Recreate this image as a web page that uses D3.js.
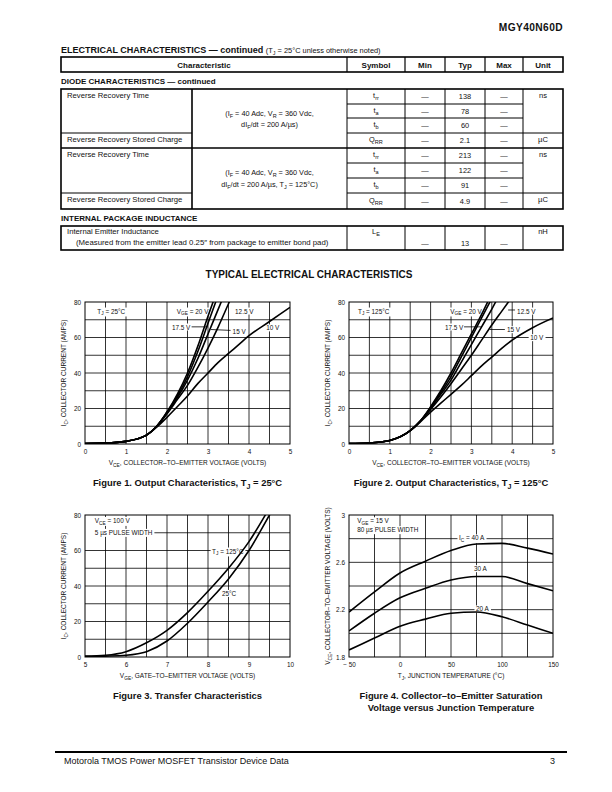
<!DOCTYPE html>
<html>
<head>
<meta charset="utf-8">
<script src="https://cdn.jsdelivr.net/npm/d3@7"></script>
<style>
  body { margin: 0; background: #fff; }
  svg text { font-family: "Liberation Sans", Arial, sans-serif; fill: #111; }
  .narrow { font-family: "Liberation Sans Narrow", "Liberation Sans", Arial, sans-serif; font-weight: bold; }
</style>
</head>
<body>
<svg id="page" width="612" height="792"></svg>
<script>
// ---------- table data ----------
var headCols = ["Characteristic", "Symbol", "Min", "Typ", "Max", "Unit"];
var diodeRowEdges = [89, 104, 118, 133, 148, 163, 178, 193, 209];
var diodeSymbols = [["t", "rr"], ["t", "a"], ["t", "b"], ["Q", "RR"], ["t", "rr"], ["t", "a"], ["t", "b"], ["Q", "RR"]];
var diodeMin = ["—", "—", "—", "—", "—", "—", "—", "—"];
var diodeTyp = ["138", "78", "60", "2.1", "213", "122", "91", "4.9"];
var diodeMax = ["—", "—", "—", "—", "—", "—", "—", "—"];
var diodeUnits = ["ns", "", "", "µC", "ns", "", "", "µC"];
var diodeChars = ["Reverse Recovery Time", "", "", "Reverse Recovery Stored Charge", "Reverse Recovery Time", "", "", "Reverse Recovery Stored Charge"];

// ---------- chart data ----------
// Figure 1, TJ = 25°C
var vce = [0, 0.5, 1, 1.5, 1.75, 2, 2.25, 2.5, 2.75, 3, 3.25, 3.5, 3.75, 4, 4.5, 5];
var f1_20 = [0.3, 0.5, 1.5, 5, 10, 18, 28, 40, 55, 72, 88];
var f1_175 = [0.3, 0.5, 1.5, 5, 10, 18, 27, 38, 52, 68, 84];
var f1_15 = [0.3, 0.5, 1.5, 5, 10, 17.5, 26, 36, 48, 62, 76, 90];
var f1_125 = [0.3, 0.5, 1.5, 5, 10, 17, 25, 33, 43, 54, 66, 79, 92];
var f1_10 = [0.3, 0.5, 1.5, 5, 9.5, 15, 21, 27, 34, 40, 46, 51, 56, 61, 69, 77];
// Figure 2, TJ = 125°C
var f2_20 = [0.3, 0.6, 2, 7.5, 13, 21, 30, 40, 51, 62, 73, 85];
var f2_175 = [0.3, 0.6, 2, 7.5, 13, 20.5, 29, 38, 49, 60, 71, 82];
var f2_15 = [0.3, 0.6, 2, 7.5, 13, 20, 28, 36, 46, 56, 66, 76, 87];
var f2_125 = [0.3, 0.6, 2, 7.5, 13, 19.5, 26.5, 34, 42, 50, 58.5, 67, 75, 83];
var f2_10 = [0.3, 0.6, 2, 7.5, 12.5, 18, 23, 28, 33, 38.5, 44, 49, 54, 58.5, 65.5, 71];
// Figure 3, transfer
var vge = [5, 5.5, 6, 6.5, 7, 7.5, 8, 8.5, 9, 9.5, 10];
var f3_125 = [0.5, 1, 3, 8, 15, 25, 37, 50, 65, 84, 104];
var f3_25 = [0.3, 0.5, 1, 3, 9, 19, 31, 44, 60, 80, 100];
// Figure 4, VCE(sat) vs TJ
var tj = [-50, -25, 0, 25, 50, 75, 100, 125, 150];
var f4_40 = [2.18, 2.35, 2.51, 2.61, 2.70, 2.755, 2.76, 2.72, 2.67];
var f4_30 = [2.02, 2.17, 2.30, 2.38, 2.45, 2.48, 2.48, 2.42, 2.36];
var f4_20 = [1.86, 1.96, 2.06, 2.12, 2.17, 2.18, 2.14, 2.07, 2.00];

var svg = d3.select("#page");

// rich text: parts are strings or [text, "sub"|"sup"]
function rich(text, parts, fs) {
    var shift = 0;
    parts.forEach(function(p) {
        var str = typeof p === "string" ? p : p[0];
        var kind = typeof p === "string" ? null : p[1];
        var target = kind === "sub" ? fs * 0.3 : kind === "sup" ? -fs * 0.35 : 0;
        var ts = text.append("tspan").text(str).attr("dy", target - shift);
        if (kind) ts.attr("font-size", fs * 0.75);
        shift = target;
    });
    return text;
}
function txt(g, x, y, parts, fs, opts) {
    opts = opts || {};
    var t = g.append("text").attr("x", x).attr("y", y).attr("font-size", fs)
        .attr("text-anchor", opts.anchor || "start");
    if (opts.cls) t.attr("class", opts.cls);
    if (opts.bold) t.attr("font-weight", "bold");
    return rich(t, typeof parts === "string" ? [parts] : parts, fs);
}
function hline(g, x1, x2, y, w) { g.append("line").attr("x1", x1).attr("x2", x2).attr("y1", y).attr("y2", y).attr("stroke", "#000").attr("stroke-width", w || 0.8); }
function vline(g, x, y1, y2, w) { g.append("line").attr("x1", x).attr("x2", x).attr("y1", y1).attr("y2", y2).attr("stroke", "#000").attr("stroke-width", w || 0.8); }

// ---------- page header ----------
txt(svg, 563, 31, "MGY40N60D", 10.2, { anchor: "end" }).attr("font-weight", 900).attr("letter-spacing", 0.4);

var tbl = svg.append("g");
var ttl = txt(tbl, 61, 53, "ELECTRICAL CHARACTERISTICS — continued ", 9, { cls: "narrow" });
ttl.append("tspan").attr("font-weight", "normal").attr("font-size", 7.4).text("(T");
ttl.append("tspan").attr("font-weight", "normal").attr("font-size", 5.4).attr("dy", 1.6).text("J");
ttl.append("tspan").attr("font-weight", "normal").attr("font-size", 7.4).attr("dy", -1.6).text(" = 25°C unless otherwise noted)");

var cols = [347, 405, 445, 485, 523];
// header row
tbl.append("rect").attr("x", 61).attr("y", 57).attr("width", 502).attr("height", 15).attr("fill", "none").attr("stroke", "#000").attr("stroke-width", 1.6);
cols.forEach(function(x) { vline(tbl, x, 57, 72, 1.2); });
var headCenters = [(61 + 347) / 2, 376, 425, 465, 504, 543];
headCols.forEach(function(h, i) { txt(tbl, headCenters[i], 67.5, h, 8, { anchor: "middle", cls: "narrow" }); });

txt(tbl, 61, 84, "DIODE CHARACTERISTICS — continued", 8, { cls: "narrow" });

// diode table
var dTop = diodeRowEdges[0], dBot = diodeRowEdges[diodeRowEdges.length - 1];
cols.forEach(function(x) { vline(tbl, x, dTop, dBot, 1); });
vline(tbl, 192, dTop, dBot, 1.6);
diodeRowEdges.forEach(function(yy, i) {
    if (i === 0 || i === diodeRowEdges.length - 1) return;
    if (i % 4 === 0) { hline(tbl, 61, 563, yy, 1.6); return; }
    if (i % 4 === 3) { hline(tbl, 61, 192, yy, 1); hline(tbl, 347, 563, yy, 1); return; }
    hline(tbl, 347, 523, yy, 1);
});
tbl.append("rect").attr("x", 61).attr("y", dTop).attr("width", 502).attr("height", dBot - dTop).attr("fill", "none").attr("stroke", "#000").attr("stroke-width", 1.6);

diodeSymbols.forEach(function(s, i) {
    var yc = (diodeRowEdges[i] + diodeRowEdges[i + 1]) / 2 + 2.5;
    txt(tbl, 376, yc - 1, [s[0], [s[1], "sub"]], 7.4, { anchor: "middle" });
    txt(tbl, 425, yc, diodeMin[i], 7.4, { anchor: "middle" });
    txt(tbl, 465, yc, diodeTyp[i], 7.4, { anchor: "middle" });
    txt(tbl, 504, yc, diodeMax[i], 7.4, { anchor: "middle" });
    if (diodeUnits[i]) txt(tbl, 543, diodeRowEdges[i] + 9, diodeUnits[i], 7.6, { anchor: "middle" });
    if (diodeChars[i]) txt(tbl, 67, diodeRowEdges[i] + 9, diodeChars[i], 7.7);
});
txt(tbl, 269.5, 115.5, ["(I", ["F", "sub"], " = 40 Adc, V", ["R", "sub"], " = 360 Vdc,"], 7.3, { anchor: "middle" });
txt(tbl, 269.5, 126.5, ["dI", ["F", "sub"], "/dt = 200 A/µs)"], 7.3, { anchor: "middle" });
txt(tbl, 269.5, 174.5, ["(I", ["F", "sub"], " = 40 Adc, V", ["R", "sub"], " = 360 Vdc,"], 7.3, { anchor: "middle" });
txt(tbl, 269.5, 186.5, ["dI", ["F", "sub"], "/dt = 200 A/µs, T", ["J", "sub"], " = 125°C)"], 7.3, { anchor: "middle" });

// internal package inductance
txt(tbl, 61, 221, "INTERNAL PACKAGE INDUCTANCE", 8, { cls: "narrow" });
tbl.append("rect").attr("x", 61).attr("y", 226).attr("width", 502).attr("height", 24).attr("fill", "none").attr("stroke", "#000").attr("stroke-width", 1.6);
cols.forEach(function(x) { vline(tbl, x, 226, 250, 1); });
txt(tbl, 67, 234, "Internal Emitter Inductance", 7.7);
txt(tbl, 76, 245, "(Measured from the emitter lead 0.25″ from package to emitter bond pad)", 7.8);
txt(tbl, 376, 234, ["L", ["E", "sub"]], 7.4, { anchor: "middle" });
txt(tbl, 425, 245.5, "—", 7.4, { anchor: "middle" });
txt(tbl, 465, 245.5, "13", 7.4, { anchor: "middle" });
txt(tbl, 504, 245.5, "—", 7.4, { anchor: "middle" });
txt(tbl, 543, 234, "nH", 7.6, { anchor: "middle" });

txt(svg, 309, 277.5, "TYPICAL ELECTRICAL CHARACTERISTICS", 10, { anchor: "middle", bold: true });

// ---------- charts ----------
var clipId = 0;
function chart(cfg) {
    var x = d3.scaleLinear().domain(cfg.xd).range([cfg.box[0], cfg.box[1]]);
    var y = d3.scaleLinear().domain(cfg.yd).range([cfg.box[3], cfg.box[2]]);
    var g = svg.append("g");

    // grid
    g.selectAll(".gx").data(cfg.xGrid).enter().append("line")
        .attr("x1", function(d) { return x(d); }).attr("x2", function(d) { return x(d); })
        .attr("y1", y.range()[0]).attr("y2", y.range()[1])
        .attr("stroke", "#000").attr("stroke-width", 0.8);
    g.selectAll(".gy").data(cfg.yGrid).enter().append("line")
        .attr("y1", function(d) { return y(d); }).attr("y2", function(d) { return y(d); })
        .attr("x1", x.range()[0]).attr("x2", x.range()[1])
        .attr("stroke", "#000").attr("stroke-width", 0.8);

    // labels: white boxes first so they hide the grid, text goes over the curves
    var boxes = g.append("g"), curves = g.append("g"), texts = g.append("g");
    cfg.labels.forEach(function(l) {
        var t = txt(texts, x(l.x), y(l.y), l.t, 6.4);
        var b = t.node().getBBox();
        var x0 = l.toLeft ? x.range()[0] : b.x - 1.5;
        boxes.append("rect").attr("x", x0).attr("y", b.y).attr("width", b.x + b.width + 1.5 - x0).attr("height", b.height)
            .attr("fill", "#fff");
    });
    (cfg.leaders || []).forEach(function(l) {
        texts.append("line").attr("x1", x(l[0])).attr("y1", y(l[1])).attr("x2", x(l[2])).attr("y2", y(l[3]))
            .attr("stroke", "#000").attr("stroke-width", 0.8);
    });

    // curves
    clipId++;
    svg.append("defs").append("clipPath").attr("id", "clip" + clipId).append("rect")
        .attr("x", x.range()[0]).attr("y", y.range()[1])
        .attr("width", x.range()[1] - x.range()[0]).attr("height", y.range()[0] - y.range()[1]);
    curves.attr("clip-path", "url(#clip" + clipId + ")");
    var line = d3.line().x(function(d) { return x(d[0]); }).y(function(d) { return y(d[1]); }).curve(d3.curveMonotoneX);
    cfg.series.forEach(function(s) {
        var pts = s.map(function(v, i) { return [cfg.xs[i], v]; });
        curves.append("path").attr("d", line(pts)).attr("fill", "none").attr("stroke", "#000").attr("stroke-width", 1.6);
    });

    // frame
    g.append("rect").attr("x", x.range()[0]).attr("y", y.range()[1])
        .attr("width", x.range()[1] - x.range()[0]).attr("height", y.range()[0] - y.range()[1])
        .attr("fill", "none").attr("stroke", "#000").attr("stroke-width", 1);

    // axes (tick labels only)
    var ax = g.append("g").attr("transform", "translate(0," + y.range()[0] + ")")
        .call(d3.axisBottom(x).tickValues(cfg.xTicks).tickSize(0).tickPadding(5).tickFormat(d3.format("")));
    var ay = g.append("g").attr("transform", "translate(" + x.range()[0] + ",0)")
        .call(d3.axisLeft(y).tickValues(cfg.yTicks).tickSize(0).tickPadding(4).tickFormat(d3.format("")));
    [ax, ay].forEach(function(a) {
        a.select(".domain").remove();
        a.selectAll("text").attr("font-size", 6.4).attr("font-family", "Liberation Sans").attr("fill", "#111");
    });
    ax.selectAll("text").text(function(d) { return d < 0 ? "− " + Math.abs(d) : d; });

    // axis titles
    var xm = (x.range()[0] + x.range()[1]) / 2;
    txt(g, xm, y.range()[0] + 21, cfg.xTitle, 6.5, { anchor: "middle" });
    var ym = (y.range()[0] + y.range()[1]) / 2;
    txt(g, 0, 0, cfg.yTitle, 6.5, { anchor: "middle" })
        .attr("transform", "translate(" + cfg.yTitleX + "," + ym + ") rotate(-90)");

    // caption
    cfg.caption.forEach(function(c, i) {
        txt(g, xm, y.range()[0] + 42 + i * 12, c, 9.4, { anchor: "middle", bold: true });
    });
}

var icTitle = ["I", ["C", "sub"], ", COLLECTOR CURRENT (AMPS)"];
var vceTitle = ["V", ["CE", "sub"], ", COLLECTOR–TO–EMITTER VOLTAGE (VOLTS)"];

chart({
    box: [85, 290, 302, 444], xd: [0, 5], yd: [0, 80],
    xGrid: d3.range(0.5, 5, 0.5), yGrid: d3.range(10, 80, 10),
    xTicks: [0, 1, 2, 3, 4, 5], yTicks: [0, 20, 40, 60, 80],
    xs: vce, series: [f1_20, f1_175, f1_15, f1_125, f1_10],
    labels: [
        { x: 0.3, y: 73.5, t: ["T", ["J", "sub"], " = 25°C"] },
        { x: 2.24, y: 73.5, t: ["V", ["GE", "sub"], " = 20 V"] },
        { x: 3.66, y: 73.5, t: "12.5 V" },
        { x: 2.12, y: 64.5, t: "17.5 V" },
        { x: 3.6, y: 62, t: "15 V" },
        { x: 4.42, y: 64, t: "10 V" }
    ],
    leaders: [[2.6, 66, 3.0, 66], [3.55, 64, 3.07, 64.5]],
    xTitle: vceTitle, yTitle: icTitle, yTitleX: 66,
    caption: [["Figure 1. Output Characteristics, T", ["J", "sub"], " = 25°C"]]
});

chart({
    box: [349, 553, 302, 444], xd: [0, 5], yd: [0, 80],
    xGrid: d3.range(0.5, 5, 0.5), yGrid: d3.range(10, 80, 10),
    xTicks: [0, 1, 2, 3, 4, 5], yTicks: [0, 20, 40, 60, 80],
    xs: vce, series: [f2_20, f2_175, f2_15, f2_125, f2_10],
    labels: [
        { x: 0.22, y: 73.5, t: ["T", ["J", "sub"], " = 125°C"] },
        { x: 2.48, y: 73.5, t: ["V", ["GE", "sub"], " = 20 V"] },
        { x: 4.12, y: 73.5, t: "12.5 V" },
        { x: 2.35, y: 64.5, t: "17.5 V" },
        { x: 3.87, y: 63, t: "15 V" },
        { x: 4.44, y: 58.5, t: "10 V" }
    ],
    leaders: [[2.82, 66, 3.26, 66], [3.82, 64.5, 3.45, 64.5], [3.9, 75.5, 4.07, 75.5]],
    xTitle: vceTitle, yTitle: icTitle, yTitleX: 330,
    caption: [["Figure 2. Output Characteristics, T", ["J", "sub"], " = 125°C"]]
});

chart({
    box: [85, 290, 515, 657], xd: [5, 10], yd: [0, 80],
    xGrid: d3.range(5.5, 10, 0.5), yGrid: d3.range(10, 80, 10),
    xTicks: [5, 6, 7, 8, 9, 10], yTicks: [0, 20, 40, 60, 80],
    xs: vge, series: [f3_125, f3_25],
    labels: [
        { x: 5.24, y: 75.5, t: ["V", ["CE", "sub"], " = 100 V"] },
        { x: 5.24, y: 68.8, t: "5 µs PULSE WIDTH", toLeft: true },
        { x: 8.1, y: 58.3, t: ["T", ["J", "sub"], " = 125°C"] },
        { x: 8.34, y: 34.4, t: "25°C" }
    ],
    xTitle: ["V", ["GE", "sub"], ", GATE–TO–EMITTER VOLTAGE (VOLTS)"], yTitle: icTitle, yTitleX: 66,
    caption: ["Figure 3. Transfer Characteristics"]
});

chart({
    box: [349, 553, 515, 657], xd: [-50, 150], yd: [1.8, 3],
    xGrid: d3.range(-25, 150, 25), yGrid: [2, 2.2, 2.4, 2.6, 2.8],
    xTicks: [-50, 0, 50, 100, 150], yTicks: [1.8, 2.2, 2.6, 3],
    xs: tj, series: [f4_40, f4_30, f4_20],
    labels: [
        { x: -42, y: 2.93, t: ["V", ["GE", "sub"], " = 15 V"] },
        { x: -42, y: 2.855, t: "80 µs PULSE WIDTH" },
        { x: 57.8, y: 2.785, t: ["I", ["C", "sub"], " = 40 A"] },
        { x: 72.5, y: 2.525, t: "30 A" },
        { x: 74.5, y: 2.185, t: "20 A" }
    ],
    xTitle: ["T", ["J", "sub"], ", JUNCTION TEMPERATURE (°C)"], yTitle: vceTitle, yTitleX: 330,
    caption: ["Figure 4. Collector–to–Emitter Saturation", "Voltage versus Junction Temperature"]
});

// ---------- footer ----------
hline(svg, 55, 567, 752, 2);
txt(svg, 64, 764, "Motorola TMOS Power MOSFET Transistor Device Data", 9);
txt(svg, 555, 764, "3", 9, { anchor: "end" });
</script>
</body>
</html>
